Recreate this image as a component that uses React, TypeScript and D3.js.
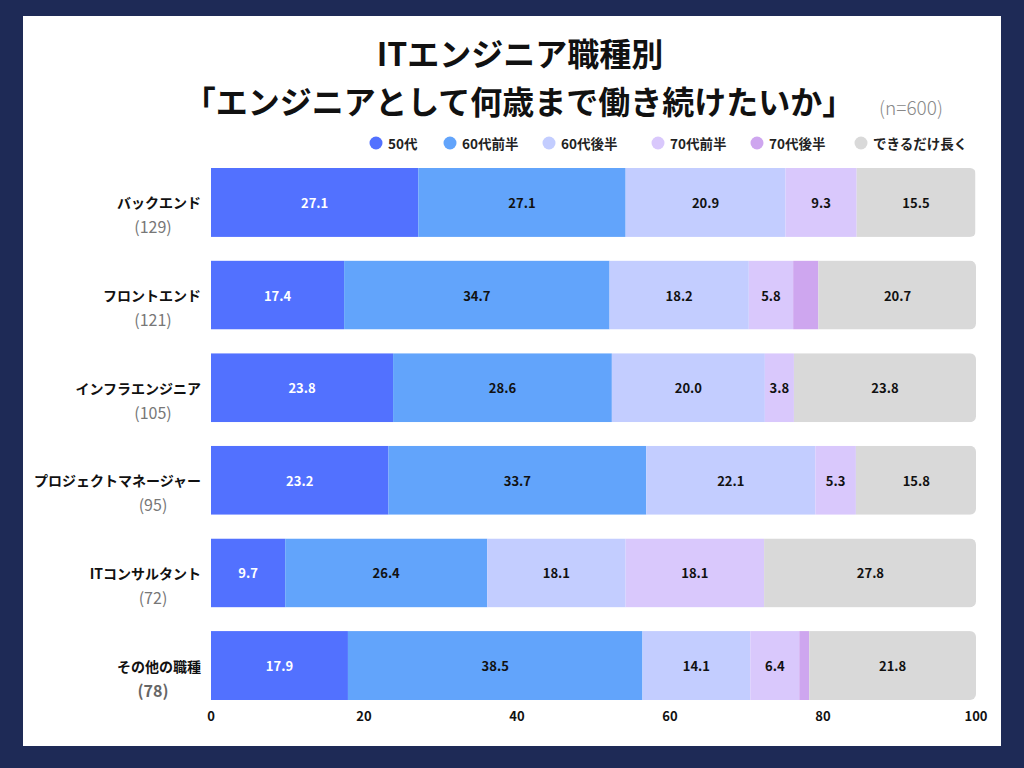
import { scaleBand, scaleLinear, stack } from "d3";

// 100% stacked horizontal bars: how long engineers want to keep working, by job type

const CATEGORIES = [
  "バックエンド",
  "フロントエンド",
  "インフラエンジニア",
  "プロジェクトマネージャー",
  "ITコンサルタント",
  "その他の職種",
];
const COUNTS = [129, 121, 105, 95, 72, 78];

const SERIES = ["50代", "60代前半", "60代後半", "70代前半", "70代後半", "できるだけ長く"];
const COLORS = ["#5271ff", "#62a4fb", "#c3cdff", "#d9c8fc", "#cea6ef", "#d9d9d9"];

// values per category, in SERIES order
const V_50 = [27.1, 17.4, 23.8, 23.2, 9.7, 17.9];
const V_60A = [27.1, 34.7, 28.6, 33.7, 26.4, 38.5];
const V_60B = [20.9, 18.2, 20.0, 22.1, 18.1, 14.1];
const V_70A = [9.3, 5.8, 3.8, 5.3, 18.1, 6.4];
const V_70B = [0, 3.3, 0, 0, 0, 1.3];
const V_LONG = [15.5, 20.7, 23.8, 15.8, 27.8, 21.8];

const X_TICKS = [0, 20, 40, 60, 80, 100];

const W = 1024;
const H = 768;
const MARGIN = { top: 168, right: 48, bottom: 68, left: 211 };
const FONT = "'Noto Sans CJK JP', 'Noto Sans', sans-serif";
const LEGEND_X = [376, 450, 549, 658, 757, 861];

type Row = { cat: string; [k: string]: number | string };

const App = () => {
  const rows: Row[] = CATEGORIES.map((cat, i) => ({
    cat,
    [SERIES[0]]: V_50[i],
    [SERIES[1]]: V_60A[i],
    [SERIES[2]]: V_60B[i],
    [SERIES[3]]: V_70A[i],
    [SERIES[4]]: V_70B[i],
    [SERIES[5]]: V_LONG[i],
  }));

  const x = scaleLinear().domain([0, 100]).range([MARGIN.left, W - MARGIN.right - 0]);
  const y = scaleBand<string>()
    .domain(CATEGORIES)
    .range([MARGIN.top, H - MARGIN.bottom])
    .paddingInner(0.256)
    .paddingOuter(0);
  const bh = y.bandwidth();

  const layers = stack<Row>()
    .keys(SERIES)
    .value((d, k) => d[k] as number)(rows);

  return (
    <svg
      width={W}
      height={H}
      style={{ position: "absolute", left: 0, top: 0, fontFamily: FONT }}
    >
      <rect width={W} height={H} fill="#1e2a56" />
      <rect x={23} y={16} width={978} height={730} fill="#ffffff" />

      <defs>
        {CATEGORIES.map((c, i) => (
          <clipPath id={`bar-${i}`} key={c}>
            <rect x={x(0)} y={y(c)} width={x(100) - x(0)} height={bh} rx={6} />
            <rect x={x(0)} y={y(c)} width={(x(100) - x(0)) / 2} height={bh} />
          </clipPath>
        ))}
      </defs>

      {/* title */}
      <text x={520} y={52} textAnchor="middle" dominantBaseline="central" fontSize={32} fontWeight={700} fill="#111">
        ITエンジニア職種別
      </text>
      <text x={519} y={100} textAnchor="middle" dominantBaseline="central" fontSize={32} fontWeight={700} fill="#111">
        「エンジニアとして何歳まで働き続けたいか」
      </text>
      <text x={911} y={106} textAnchor="middle" dominantBaseline="central" fontSize={19} fontWeight={300} fill="#888">
        (n=600)
      </text>

      {/* legend */}
      {SERIES.map((s, i) => (
        <g key={s} transform={`translate(${LEGEND_X[i]},143)`}>
          <circle r={6.5} fill={COLORS[i]} />
          <text x={12} dominantBaseline="central" fontSize={13.5} fontWeight={700} fill="#222">
            {s}
          </text>
        </g>
      ))}

      {/* bars */}
      {CATEGORIES.map((c, ci) => (
        <g key={c} clipPath={`url(#bar-${ci})`}>
          {layers.map((layer, li) => {
            const d = layer[ci];
            return (
              <rect
                key={layer.key}
                x={x(d[0])}
                y={y(c)}
                width={Math.max(0, x(d[1]) - x(d[0]))}
                height={bh}
                fill={COLORS[li]}
              />
            );
          })}
        </g>
      ))}

      {/* segment labels */}
      {CATEGORIES.map((c, ci) =>
        layers.map((layer, li) => {
          const d = layer[ci];
          const v = d[1] - d[0];
          if (li === 4 || v <= 0) return null;
          return (
            <text
              key={`${c}-${layer.key}`}
              x={x((d[0] + d[1]) / 2)}
              y={(y(c) as number) + bh / 2}
              textAnchor="middle"
              dominantBaseline="central"
              fontSize={13}
              fontWeight={700}
              fill={li === 0 ? "#ffffff" : "#111"}
            >
              {(d.data[layer.key] as number).toFixed(1)}
            </text>
          );
        })
      )}

      {/* category labels */}
      {CATEGORIES.map((c, ci) => {
        const cy = (y(c) as number) + bh / 2;
        const last = ci === CATEGORIES.length - 1;
        return (
          <g key={c}>
            <text x={201} y={cy} textAnchor="end" dominantBaseline="central" fontSize={14} fontWeight={700} fill="#111">
              {c}
            </text>
            <text
              x={153}
              y={cy + 24}
              textAnchor="middle"
              dominantBaseline="central"
              fontSize={16}
              fontWeight={last ? 700 : 400}
              fill={last ? "#666" : "#777"}
            >
              ({COUNTS[ci]})
            </text>
          </g>
        );
      })}

      {/* x axis */}
      {X_TICKS.map((t) => (
        <text
          key={t}
          x={x(t)}
          y={715}
          textAnchor="middle"
          dominantBaseline="central"
          fontSize={13}
          fontWeight={700}
          fill="#111"
        >
          {t}
        </text>
      ))}
    </svg>
  );
};

export default App;
